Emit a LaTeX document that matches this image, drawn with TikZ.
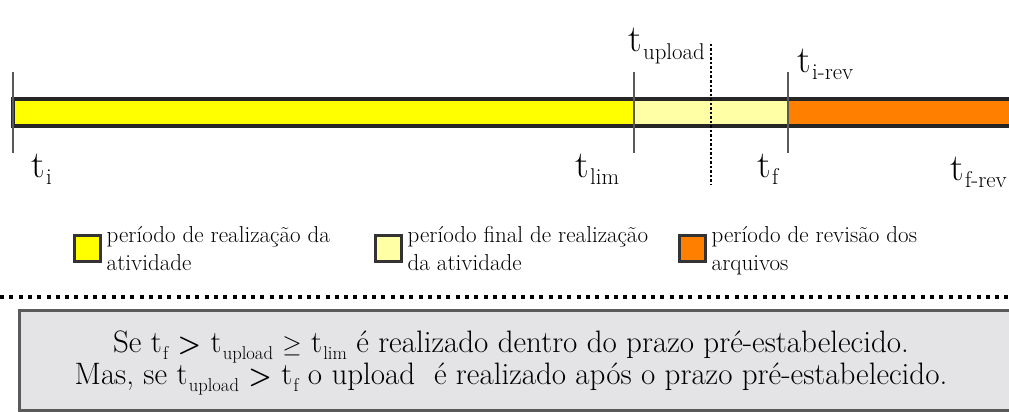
\documentclass[tikz,border=0pt]{standalone}
\usepackage{fontspec}
\usetikzlibrary{positioning}
\definecolor{barYellow}{HTML}{FFFF00}
\definecolor{barPale}{HTML}{FFFFA6}
\definecolor{barOrange}{HTML}{FF8000}
\definecolor{boxGray}{HTML}{E4E3E6}
\definecolor{edgeGray}{HTML}{5A5A5A}
\newcommand{\tsub}[1]{t\kern0.04em\raisebox{-0.2em}{\scalebox{0.6}{#1}}}
\newcommand{\gtsign}{\scalebox{0.85}{\textbf{>}}}

\begin{document}
\begin{tikzpicture}[x=1pt, y=-1pt,
    tick/.style={draw=black!65, line width=1.3pt},
    tlab/.style={font=\fontsize{38}{38}\selectfont, anchor=base west, inner sep=0pt},
    legsq/.style={draw=black!80, line width=3pt, minimum width=26pt, minimum height=26pt, inner sep=0pt},
    legtxt/.style={font=\fontsize{23}{28}\selectfont, align=left, inner sep=0pt}]
    \useasboundingbox (0,0) rectangle (1009,412);

    %Bar
    \fill[barYellow] (13,99) rectangle (634,126);
    \fill[barPale]   (634,99) rectangle (788,126);
    \fill[barOrange] (788,99) rectangle (1015,126);
    \draw[black!85, line width=3.5pt] (1015,99) -- (13,99) -- (13,126) -- (1015,126);
    \draw[black!85, line width=2.5pt] (634,99) -- (634,126);
    \draw[black!85, line width=2.5pt] (788,99) -- (788,126);

    %Ticks
    \foreach \x in {13,634,788}
        \draw[tick] (\x,72) -- (\x,153);
    \draw[line width=2pt, dash pattern=on 2.5pt off 2pt] (711,44) -- (711,184);

    %Time labels
    \node (ti)      [tlab] at (31,177)  {\tsub{i}};
    \node (tlim)    [tlab] at (575,177) {\tsub{lim}};
    \node (tf)      [tlab] at (757,177) {\tsub{f}};
    \node (tfrev)   [tlab] at (950,180) {\tsub{f-rev}};
    \node (tupload) [tlab] at (628,52)  {\tsub{upload}};
    \node (tirev)   [tlab] at (797,72)  {\tsub{i-rev}};

    %Legend
    \node (sqA) [legsq, fill=barYellow] at (87,248)  {};
    \node (sqB) [legsq, fill=barPale]   at (388,248) {};
    \node (sqC) [legsq, fill=barOrange] at (692,248) {};
    \node (legA) [legtxt, right=5pt of sqA.north east, anchor=north west, yshift=7pt] {período de realização da\\atividade};
    \node (legB) [legtxt, right=5pt of sqB.north east, anchor=north west, yshift=7pt] {período final de realização\\da atividade};
    \node (legC) [legtxt, right=5pt of sqC.north east, anchor=north west, yshift=7pt] {período de revisão dos\\arquivos};

    \draw[line width=3.5pt, dash pattern=on 4pt off 5.3pt] (0,297) -- (1009,297);

    %Note
    \draw[draw=edgeGray, fill=boxGray, line width=3pt] (19,310) rectangle (1020,410);
    \node (note) [font=\fontsize{31}{32}\selectfont, align=center, inner sep=0pt] at (511,363)
        {Se \tsub{f} \gtsign{} \tsub{upload} $\geq$ \tsub{lim} é realizado dentro do prazo pré-estabelecido.\\
         Mas, se \tsub{upload} \gtsign{} \tsub{f} o upload\ \ é realizado após o prazo pré-estabelecido.};
\end{tikzpicture}
\end{document}
